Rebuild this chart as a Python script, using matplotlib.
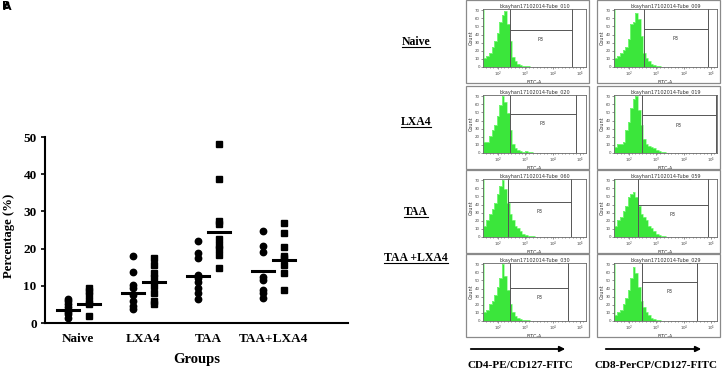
import matplotlib
matplotlib.use("Agg")
import matplotlib.pyplot as plt
import numpy as np
from matplotlib.lines import Line2D
from matplotlib.patches import Rectangle, FancyArrowPatch

# ---- panel A data: percentage per group (circles = CD4, squares = CD8)
groups = ["Naive", "LXA4", "TAA", "TAA+LXA4"]
cd4_vals = [
    [1.3, 2.4, 3.0, 3.6, 4.2, 5.0, 5.8, 6.5],
    [3.8, 4.5, 6.0, 7.5, 9.5, 10.3, 13.8, 17.9],
    [6.5, 8.0, 9.5, 11.0, 12.0, 13.0, 17.5, 18.8, 22.0],
    [6.8, 8.0, 9.0, 11.5, 12.5, 19.0, 20.7, 24.6],
]
cd8_vals = [
    [2.0, 5.0, 6.0, 7.5, 8.5, 9.5],
    [5.0, 6.0, 8.0, 10.0, 12.0, 13.5, 15.5, 17.5],
    [14.7, 18.2, 20.0, 21.0, 22.5, 26.5, 27.5, 38.7, 48.0],
    [8.8, 13.5, 15.5, 17.5, 18.0, 20.5, 24.2, 26.8],
]
cd4_means = [3.5, 8.0, 12.6, 14.0]
cd8_means = [5.2, 11.0, 24.5, 17.0]

# ---- panel B data: flow histograms (left column CD4, right column CD8)
row_labels = ["Naive", "LXA4", "TAA", "TAA +LXA4"]
col_labels = ["CD4-PE/CD127-FITC", "CD8-PerCP/CD127-FITC"]
tube_names = [
    ["bkayhan17102014-Tube_010", "bkayhan17102014-Tube_009"],
    ["bkayhan17102014-Tube_020", "bkayhan17102014-Tube_019"],
    ["bkayhan17102014-Tube_060", "bkayhan17102014-Tube_059"],
    ["bkayhan17102014-Tube_030", "bkayhan17102014-Tube_029"],
]
# first value = spike at the left edge, then bins along FITC-A
hist_heights = [
    [[1.0, 0.15, 0.2, 0.25, 0.35, 0.45, 0.6, 0.8, 0.92, 0.98, 0.75, 0.45, 0.18, 0.1, 0.06, 0.03, 0.02, 0.01, 0.01, 0, 0],
     [1.0, 0.15, 0.2, 0.25, 0.3, 0.35, 0.5, 0.75, 0.8, 0.95, 0.85, 0.55, 0.25, 0.15, 0.1, 0.06, 0.03, 0.02, 0.01, 0, 0]],
    [[1.0, 0.2, 0.2, 0.3, 0.4, 0.5, 0.65, 0.85, 1.0, 0.9, 0.7, 0.4, 0.15, 0.08, 0.05, 0.03, 0.02, 0.03, 0.01, 0.02, 0],
     [1.0, 0.1, 0.15, 0.15, 0.2, 0.4, 0.55, 0.8, 0.95, 1.0, 0.75, 0.5, 0.25, 0.15, 0.12, 0.1, 0.08, 0.05, 0.04, 0.02, 0.01]],
    [[1.0, 0.2, 0.3, 0.4, 0.5, 0.6, 0.75, 0.9, 1.0, 0.85, 0.6, 0.4, 0.3, 0.2, 0.15, 0.1, 0.05, 0.03, 0.02, 0.01, 0.01],
     [1.0, 0.2, 0.3, 0.35, 0.45, 0.55, 0.7, 0.75, 0.8, 0.7, 0.55, 0.4, 0.35, 0.3, 0.2, 0.15, 0.1, 0.06, 0.04, 0.02, 0.01]],
    [[1.0, 0.15, 0.2, 0.3, 0.35, 0.45, 0.6, 0.75, 1.0, 0.8, 0.55, 0.3, 0.15, 0.08, 0.05, 0.03, 0.02, 0.01, 0.01, 0, 0],
     [1.0, 0.1, 0.15, 0.2, 0.3, 0.4, 0.55, 0.75, 0.95, 0.85, 0.6, 0.35, 0.25, 0.15, 0.1, 0.06, 0.04, 0.02, 0.01, 0, 0]],
]
gate_left = [[0.26, 0.29], [0.26, 0.27], [0.24, 0.23], [0.26, 0.27]]
gate_right = [[0.86, 0.91], [0.90, 0.99], [0.85, 0.91], [0.83, 0.81]]
gate_level = [[0.65, 0.67], [0.69, 0.66], [0.61, 0.57], [0.58, 0.69]]
fitc_ticks = ["10$^2$", "10$^3$", "10$^4$", "10$^5$"]

W, H = 722, 370
fig = plt.figure(figsize=(W / 100, H / 100), dpi=100)
serif = "Liberation Serif"


def px_axes(x, y, w, h):
    return fig.add_axes([x / W, 1 - (y + h) / H, w / W, h / H])


# ---------------- panel A ----------------
ax = px_axes(45, 137, 303, 186)
xpos = np.arange(1, len(groups) + 1)
off = 0.16
for i in range(len(groups)):
    ax.plot([xpos[i] - off] * len(cd4_vals[i]), cd4_vals[i], "o", color="black", ms=4.6, ls="none")
    ax.plot([xpos[i] + off] * len(cd8_vals[i]), cd8_vals[i], "s", color="black", ms=4.2, ls="none")
    ax.plot([xpos[i] - off - 0.17, xpos[i] - off + 0.17], [cd4_means[i]] * 2, color="black", lw=2.2)
    ax.plot([xpos[i] + off - 0.17, xpos[i] + off + 0.17], [cd8_means[i]] * 2, color="black", lw=2.2)

ax.set_xlim(0.49, 5.15)
ax.set_ylim(0, 50)
ax.set_yticks([0, 10, 20, 30, 40, 50])
ax.set_xticks(xpos)
ax.set_xticklabels(groups)
for s in ["top", "right"]:
    ax.spines[s].set_visible(False)
for s in ["left", "bottom"]:
    ax.spines[s].set_linewidth(1.5)
ax.tick_params(axis="y", direction="out", length=3, width=1.2, pad=3)
ax.tick_params(axis="x", length=0, pad=7)
for lab in ax.get_xticklabels() + ax.get_yticklabels():
    lab.set_fontfamily(serif)
    lab.set_fontweight("bold")
    lab.set_fontsize(9.5)
ax.set_xlabel("Groups", fontfamily=serif, fontweight="bold", fontsize=10.5, labelpad=6)
fig.text(9 / W, 1 - 236 / H, "Percentage (%)", rotation=90, ha="center", va="center",
         fontfamily=serif, fontweight="bold", fontsize=9.2)

fig.text(2 / W, 1 - 9 / H, "B", fontsize=8, fontweight="bold", fontfamily="DejaVu Sans")
fig.text(3 / W, 1 - 10 / H, "A", fontsize=8, fontweight="bold", fontfamily="DejaVu Sans")

# ---------------- panel B ----------------
col_x = [466, 597]
row_y = [0, 86, 170, 254]
bw, bh = 123, 83
edges = np.concatenate([[0.0, 0.008], 0.008 + 0.025 * np.arange(1, 21)])

for r in range(4):
    for c in range(2):
        x0, y0 = col_x[c], row_y[r]
        fig.patches.append(Rectangle((x0 / W, 1 - (y0 + bh) / H), bw / W, bh / H,
                                     transform=fig.transFigure, fill=False,
                                     edgecolor="#8a8a8a", lw=0.9))
        hx = px_axes(x0 + 17, y0 + 9, 103, 58)
        hx.stairs(hist_heights[r][c], edges, fill=True, color="#3be63b")
        hx.stairs(hist_heights[r][c], edges, color="#8cff8c", lw=0.5)
        hx.axvline(gate_left[r][c], color="#555555", lw=0.7)
        hx.axvline(gate_right[r][c], color="#555555", lw=0.7)
        hx.plot([gate_left[r][c], gate_right[r][c]], [gate_level[r][c]] * 2, color="#555555", lw=0.7)
        hx.text((gate_left[r][c] + gate_right[r][c]) / 2, gate_level[r][c] - 0.17, "P3",
                fontsize=3.5, ha="center", va="center", color="#333333")
        hx.set_xlim(0, 1)
        hx.set_ylim(0, 1.02)
        for s in hx.spines.values():
            s.set_color("#666666")
            s.set_linewidth(0.6)
        hx.set_xticks([0.15, 0.41, 0.68, 0.94])
        hx.set_xticklabels(fitc_ticks)
        hx.set_xticks(np.arange(0.03, 1.0, 0.035), minor=True)
        hx.set_yticks(np.linspace(0, 1, 8))
        hx.set_yticklabels([str(v) for v in range(0, 80, 10)])
        hx.tick_params(which="both", length=1.2, width=0.4, labelsize=2.8, pad=1, colors="#444444")
        hx.tick_params(which="minor", length=0.8)
        hx.set_title(tube_names[r][c], fontsize=3.5, pad=1.5, color="#333333")
        hx.set_xlabel("FITC-A", fontsize=3.5, labelpad=0.2, color="#333333")
        hx.set_ylabel("Count", fontsize=3.5, labelpad=1, color="#333333")

# row labels (bold, underlined)
label_y = [42, 122, 212, 258]
row_texts = []
for r in range(4):
    t = fig.text(416 / W, 1 - label_y[r] / H, row_labels[r], fontfamily=serif, fontweight="bold",
                 fontsize=8.5, ha="center", va="center")
    row_texts.append(t)

# arrows and column labels
arrow_x = [(468, 568), (603, 704)]
for c in range(2):
    fig.add_artist(FancyArrowPatch(
        (arrow_x[c][0] / W, 1 - 349 / H), (arrow_x[c][1] / W, 1 - 349 / H),
        transform=fig.transFigure, arrowstyle="-|>", mutation_scale=8, lw=1.3, color="black"))
    fig.text((arrow_x[c][0] + arrow_x[c][1]) / 2 / W + 0.003, 1 - 365 / H, col_labels[c],
             fontfamily=serif, fontweight="bold", fontsize=8, ha="center", va="center")

fig.canvas.draw()
rend = fig.canvas.get_renderer()
inv = fig.transFigure.inverted()
for t in row_texts:
    bb = t.get_window_extent(rend)
    (x0, y0), (x1, y1) = inv.transform([[bb.x0, bb.y0], [bb.x1, bb.y1]])
    fig.add_artist(Line2D([x0, x1], [y0 + 0.002, y0 + 0.002], transform=fig.transFigure,
                          color="black", lw=0.8))

fig.savefig("out.png", dpi=100)
